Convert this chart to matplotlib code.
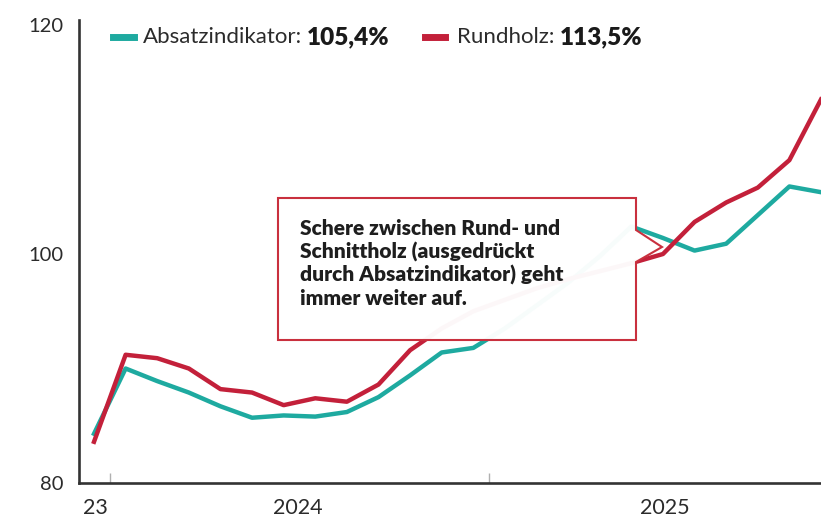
import matplotlib
matplotlib.use('Agg')
import matplotlib.pyplot as plt
import matplotlib.transforms as transforms
from matplotlib.patches import Polygon
from matplotlib.lines import Line2D

plt.rcParams['font.family'] = ['Lato', 'DejaVu Sans']

# monthly values, Dec 2023 .. Nov 2025 (index 0..23)
months = list(range(24))
absatz = [84.3, 90.0, 88.9, 87.9, 86.7, 85.7, 85.9, 85.8, 86.2, 87.5, 89.4, 91.4,
          91.8, 93.5, 95.5, 97.5, 99.8, 102.4, 101.4, 100.3, 100.9, 103.4, 105.9, 105.4]
rundholz = [83.6, 91.2, 90.9, 90.0, 88.2, 87.9, 86.8, 87.4, 87.1, 88.6, 91.6, 93.5,
            95.0, 96.0, 97.0, 97.8, 98.5, 99.2, 100.0, 102.8, 104.5, 105.8, 108.2, 113.5]
year_ticks = [0.5, 12.5]
year_labels = ['23', '2024', '2025']
year_label_pos = [0.03, 6.46, 18.05]
y_ticks = [80, 100, 120]

teal = '#1eaaa0'
red = '#c3203a'
txt = '#2b2b2b'

W, H = 821, 519
fig = plt.figure(figsize=(W / 100, H / 100), dpi=100)
ax = fig.add_axes([79 / W, 1 - 483 / H, (W - 79) / W, (483 - 20) / H])

ax.plot(months, absatz, color=teal, lw=3.2, solid_joinstyle='round', zorder=3)
ax.plot(months, rundholz, color=red, lw=3.2, solid_joinstyle='round', zorder=3)

ax.set_xlim(-0.475, 23.0)
ax.set_ylim(80, 120.44)

for s in ['top', 'right']:
    ax.spines[s].set_visible(False)
for s in ['left', 'bottom']:
    ax.spines[s].set_color('#333333')
    ax.spines[s].set_linewidth(1.9)

ax.set_yticks(y_ticks)
ax.set_yticklabels([str(v) for v in y_ticks], fontsize=14.5, color=txt)
ax.tick_params(axis='y', length=0, pad=11)
ax.set_xticks(year_ticks)
ax.set_xticklabels([])
ax.tick_params(axis='x', direction='in', length=7, width=1, color='#b0b0b0')

trans = transforms.blended_transform_factory(ax.transData, ax.transAxes)
for xp, lab in zip(year_label_pos, year_labels):
    ax.text(xp, -0.054, lab, transform=trans, ha='center', va='center',
            fontsize=15.5, color=txt, clip_on=False)

# legend (manual, mixed weights)
def fx(px):
    return px / W

def fy(py):
    return 1 - py / H

fig.add_artist(Line2D([fx(113), fx(134)], [fy(37), fy(37)], color=teal, lw=5,
                      transform=fig.transFigure))
fig.add_artist(Line2D([fx(425), fx(445)], [fy(37), fy(37)], color=red, lw=5,
                      transform=fig.transFigure))
fig.canvas.draw()
r = fig.canvas.get_renderer()
t1 = fig.text(fx(143), fy(37), 'Absatzindikator:', fontsize=16, color=txt, va='center')
bb = t1.get_window_extent(r)
fig.text(bb.x1 / W + 5 / W, fy(37), '105,4%', fontsize=17.5, fontweight='heavy',
         color='#1a1a1a', va='center')
t2 = fig.text(fx(457), fy(37), 'Rundholz:', fontsize=16, color=txt, va='center')
bb = t2.get_window_extent(r)
fig.text(bb.x1 / W + 5 / W, fy(37), '113,5%', fontsize=17.5, fontweight='heavy',
         color='#1a1a1a', va='center')

# callout box
box = [(278, 198), (636, 198), (636, 230), (662, 247), (636, 262), (636, 340), (278, 340)]
poly = Polygon([(fx(a), fy(b)) for a, b in box], closed=True, transform=fig.transFigure,
               facecolor='white', alpha=0.97, edgecolor='none', zorder=5)
fig.add_artist(poly)
edge = Polygon([(fx(a), fy(b)) for a, b in box], closed=True, transform=fig.transFigure,
               facecolor='none', edgecolor='#c9303e', lw=1.5, zorder=6)
fig.add_artist(edge)
fig.text(fx(300), fy(219),
         'Schere zwischen Rund- und\nSchnittholz (ausgedrückt\n'
         'durch Absatzindikator) geht\nimmer weiter auf.',
         fontsize=15, fontweight='heavy', color='#1e1e1e', va='top', ha='left',
         linespacing=1.22, zorder=7)

fig.savefig('out.png', dpi=100)
